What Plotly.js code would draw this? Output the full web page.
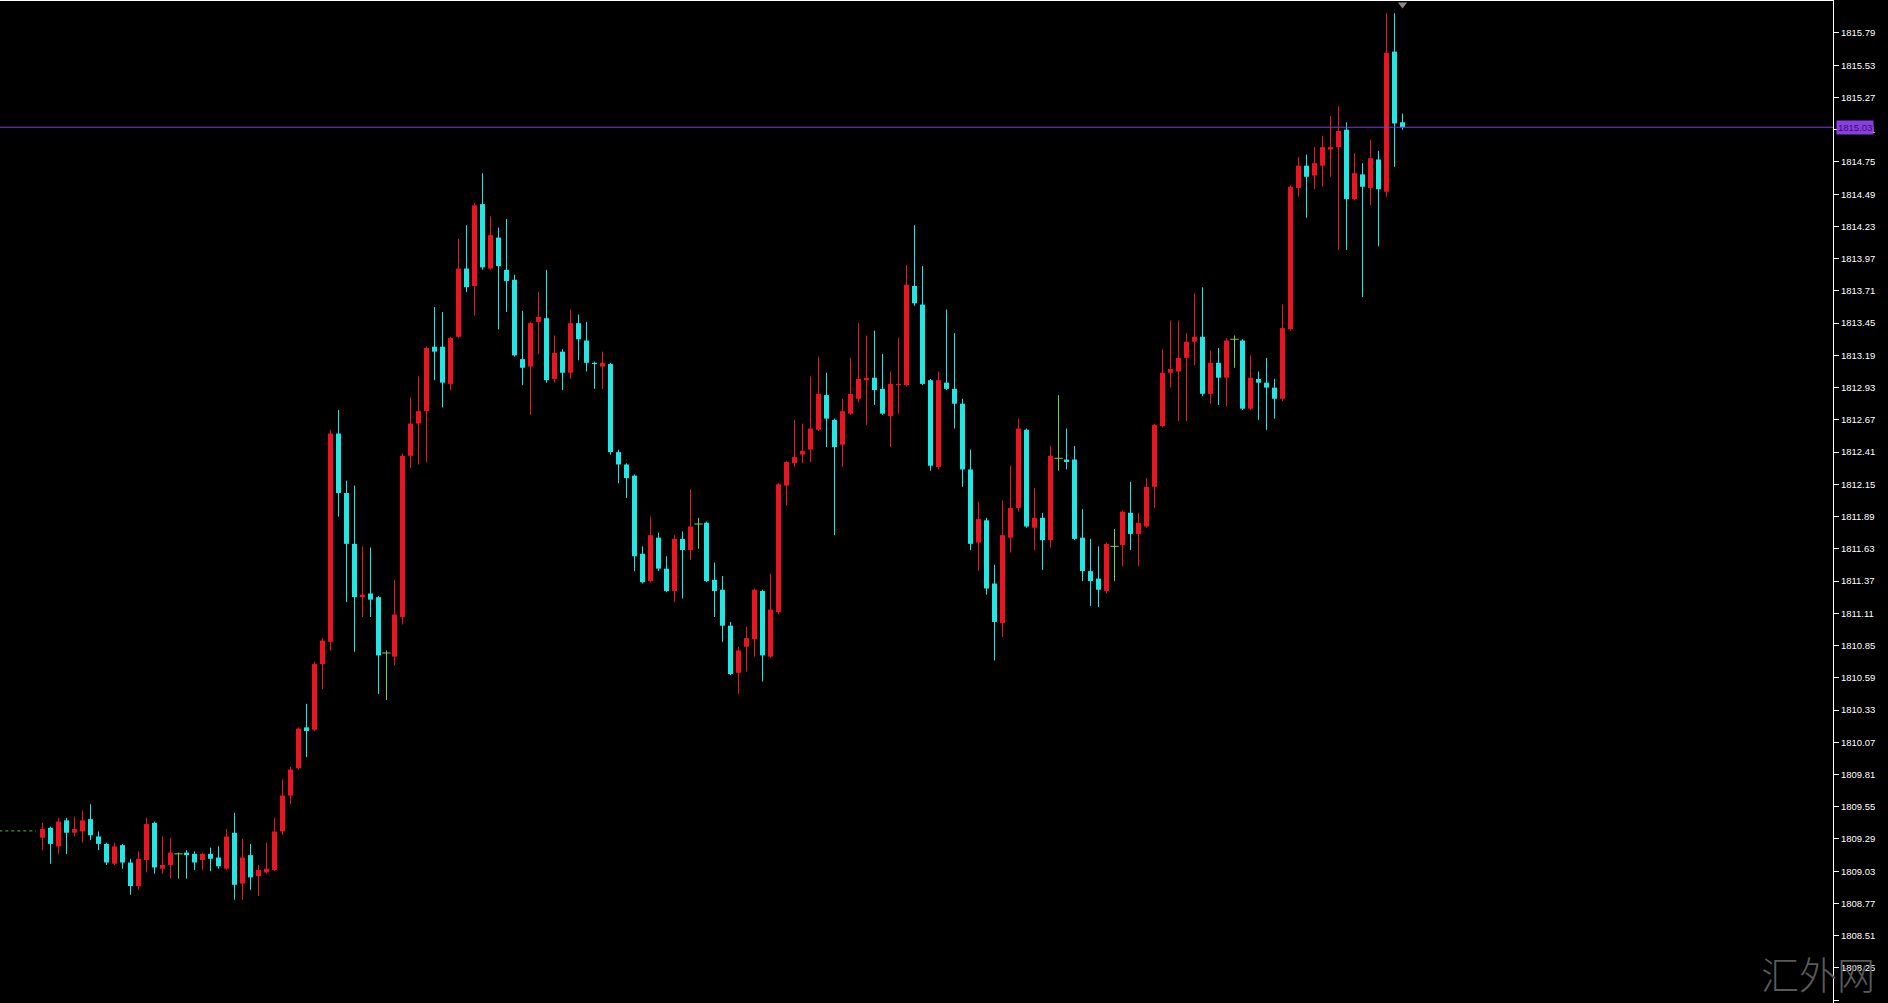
<!DOCTYPE html>
<html>
<head>
<meta charset="utf-8">
<script src="https://cdn.plot.ly/plotly-3.0.1.min.js"></script>
<style>
html,body{margin:0;padding:0;background:#000;overflow:hidden}
#chart{width:1888px;height:1003px}
</style>
</head>
<body>
<div id="chart"></div>
<script>
// ---- data ----
const openP = [
1809.30,1809.38,1809.23,1809.44,1809.34,1809.35,1809.45,1809.31,1809.25,1809.09,
1809.24,1809.10,1808.91,1809.12,1809.42,1809.05,1809.08,1809.17,1809.18,1809.17,
1809.12,1809.17,1809.14,1809.05,1809.34,1808.93,1809.16,1808.99,1809.02,1809.04,
1809.35,1809.64,1809.86,1810.19,1810.17,1810.70,1810.88,1812.56,1812.08,1811.67,
1811.24,1811.27,1811.24,1810.79,1810.76,1811.08,1812.38,1812.64,1812.74,1813.26,
1813.26,1812.96,1813.34,1813.89,1813.75,1814.41,1813.89,1814.14,1813.88,1813.80,
1813.16,1813.10,1813.46,1813.49,1813.00,1813.22,1813.05,1813.45,1813.31,1813.13,
1813.10,1813.12,1812.41,1812.31,1812.22,1811.59,1811.37,1811.72,1811.47,1811.29,
1811.71,1811.62,1811.83,1811.84,1811.38,1811.30,1811.01,1810.63,1810.84,1810.90,
1811.29,1810.76,1811.12,1812.14,1812.32,1812.39,1812.43,1812.59,1812.87,1812.67,
1812.47,1812.72,1812.84,1812.99,1813.01,1812.92,1812.70,1812.95,1812.95,1813.75,
1813.60,1812.99,1812.29,1812.97,1812.92,1812.80,1812.27,1811.68,1811.86,1811.35,
1811.03,1811.72,1811.96,1812.59,1811.80,1811.88,1811.70,1812.36,1812.35,1812.35,
1811.72,1811.45,1811.39,1811.29,1811.65,1811.66,1811.92,1811.75,1811.81,1812.13,
1812.62,1813.05,1813.06,1813.17,1813.30,1813.34,1812.88,1813.13,1813.01,1813.32,
1813.31,1812.76,1813.00,1812.97,1812.93,1812.84,1813.40,1814.54,1814.72,1814.64,
1814.72,1814.85,1814.87,1815.01,1814.45,1814.65,1814.54,1814.77,1814.51,1815.64,
1815.07];
const highP = [
1809.42,1809.39,1809.46,1809.46,1809.47,1809.52,1809.57,1809.35,1809.26,1809.26,
1809.25,1809.13,1809.19,1809.46,1809.43,1809.31,1809.30,1809.18,1809.20,1809.19,
1809.18,1809.22,1809.23,1809.37,1809.50,1809.29,1809.25,1809.08,1809.26,1809.46,
1809.77,1809.87,1810.19,1810.38,1810.72,1810.91,1812.59,1812.75,1812.18,1812.14,
1811.65,1811.64,1811.25,1810.81,1811.38,1812.40,1812.85,1813.02,1813.26,1813.58,
1813.54,1813.34,1814.13,1814.24,1814.42,1814.66,1814.31,1814.22,1814.29,1813.84,
1813.55,1813.46,1813.70,1813.88,1813.35,1813.24,1813.56,1813.52,1813.46,1813.14,
1813.22,1813.13,1812.43,1812.32,1812.23,1811.65,1811.89,1811.76,1811.57,1811.74,
1811.77,1812.11,1811.88,1811.85,1811.52,1811.41,1811.04,1810.84,1811.00,1811.31,
1811.30,1811.43,1812.16,1812.34,1812.67,1812.64,1813.02,1813.18,1813.05,1812.68,
1812.84,1813.17,1813.45,1813.35,1813.39,1813.20,1813.06,1813.33,1813.92,1814.24,
1813.91,1813.00,1813.06,1813.56,1813.37,1812.84,1812.43,1812.01,1811.88,1811.50,
1812.02,1812.30,1812.68,1812.60,1812.12,1811.92,1812.46,1812.87,1812.60,1812.46,
1811.95,1811.71,1811.65,1811.68,1811.79,1811.94,1812.17,1811.92,1812.20,1812.64,
1813.24,1813.47,1813.47,1813.37,1813.69,1813.74,1813.23,1813.25,1813.33,1813.35,
1813.32,1813.19,1813.06,1813.17,1813.00,1813.60,1814.56,1814.79,1814.81,1814.87,
1814.96,1815.12,1815.20,1815.07,1814.82,1814.74,1814.93,1814.84,1815.95,1815.95,
1815.14];
const lowP = [
1809.20,1809.09,1809.17,1809.17,1809.31,1809.26,1809.28,1809.20,1809.08,1809.08,
1809.05,1808.84,1808.88,1809.02,1809.01,1809.01,1808.97,1808.97,1808.97,1809.04,
1809.04,1809.03,1809.05,1809.04,1808.80,1808.80,1808.88,1808.83,1809.01,1809.03,
1809.32,1809.57,1809.85,1809.95,1810.16,1810.50,1810.81,1811.89,1811.20,1810.80,
1811.08,1811.08,1810.46,1810.41,1810.69,1811.02,1812.28,1812.31,1812.33,1812.99,
1812.77,1812.91,1813.33,1813.70,1813.51,1813.88,1813.88,1813.40,1813.54,1813.18,
1812.95,1812.71,1813.20,1812.97,1812.97,1812.91,1813.00,1813.15,1813.06,1812.92,
1812.92,1812.39,1812.16,1812.04,1811.45,1811.35,1811.36,1811.45,1811.28,1811.20,
1811.23,1811.54,1811.63,1811.36,1811.08,1810.88,1810.61,1810.46,1810.64,1810.76,
1810.56,1810.75,1811.10,1811.98,1812.29,1812.32,1812.33,1812.58,1812.45,1811.74,
1812.29,1812.71,1812.81,1812.63,1812.79,1812.71,1812.45,1812.72,1812.94,1813.59,
1812.95,1812.26,1812.27,1812.91,1812.60,1812.13,1811.62,1811.45,1811.26,1810.73,
1810.92,1811.60,1811.93,1811.80,1811.62,1811.46,1811.64,1812.26,1812.27,1811.70,
1811.37,1811.17,1811.16,1811.27,1811.37,1811.49,1811.62,1811.49,1811.80,1811.96,
1812.61,1812.93,1812.66,1812.66,1813.11,1812.86,1812.80,1812.79,1812.78,1813.09,
1812.75,1812.75,1812.67,1812.59,1812.68,1812.82,1813.39,1814.47,1814.30,1814.53,
1814.55,1814.63,1814.04,1814.04,1814.44,1813.66,1814.40,1814.07,1814.47,1814.71,
1815.01];
const closeP = [
1809.37,1809.25,1809.43,1809.34,1809.37,1809.44,1809.32,1809.25,1809.10,1809.23,
1809.10,1808.91,1809.13,1809.41,1809.06,1809.08,1809.18,1809.17,1809.16,1809.10,
1809.17,1809.13,1809.07,1809.31,1808.92,1809.14,1808.98,1809.04,1809.05,1809.35,
1809.64,1809.85,1810.18,1810.16,1810.70,1810.89,1812.56,1812.08,1811.67,1811.24,
1811.26,1811.22,1810.77,1810.79,1811.10,1812.38,1812.64,1812.74,1813.25,1813.22,
1812.97,1813.33,1813.89,1813.74,1814.40,1813.90,1814.16,1813.91,1813.79,1813.19,
1813.09,1813.45,1813.50,1812.99,1813.21,1813.05,1813.45,1813.32,1813.13,1813.12,
1813.13,1812.41,1812.31,1812.20,1811.57,1811.36,1811.74,1811.47,1811.29,1811.71,
1811.62,1811.81,1811.83,1811.37,1811.29,1811.01,1810.62,1810.81,1810.91,1811.30,
1810.77,1811.14,1812.15,1812.33,1812.37,1812.42,1812.60,1812.88,1812.68,1812.45,
1812.74,1812.88,1813.00,1813.01,1812.91,1812.72,1812.96,1812.96,1813.76,1813.61,
1812.96,1812.30,1812.99,1812.92,1812.80,1812.27,1811.67,1811.87,1811.31,1811.04,
1811.74,1811.96,1812.60,1811.81,1811.88,1811.70,1812.38,1812.36,1812.33,1811.71,
1811.45,1811.37,1811.30,1811.67,1811.65,1811.93,1811.75,1811.84,1812.13,1812.63,
1813.05,1813.08,1813.17,1813.30,1813.34,1812.88,1813.13,1813.01,1813.31,1813.32,
1812.76,1813.01,1812.97,1812.93,1812.84,1813.41,1814.55,1814.72,1814.63,1814.74,
1814.87,1814.87,1815.00,1814.45,1814.66,1814.55,1814.78,1814.53,1815.63,1815.06,
1815.03];
const tickLabels = [
"1807.99","1808.25","1808.51","1808.77","1809.03","1809.29","1809.55","1809.81",
"1810.07","1810.33","1810.59","1810.85","1811.11","1811.37","1811.63","1811.89",
"1812.15","1812.41","1812.67","1812.93","1813.19","1813.45","1813.71","1813.97",
"1814.23","1814.49","1814.75","1815.01","1815.27","1815.53","1815.79"];
const lastPrice = 1815.03;
const lastPriceLabel = "1815.03";
const separatorLevel = 1809.355;
const watermark = "汇外网";

// ---- colours ----
const UP = "#ea1520", DOWN = "#20e6e6", DOJI = "#78d040";

// ---- build traces ----
const n = openP.length;
const idx = openP.map((_, i) => i);
const groups = {up:{x:[],base:[],h:[],wx:[],wy:[]}, down:{x:[],base:[],h:[],wx:[],wy:[]}, doji:{x:[],y:[],wx:[],wy:[]}};
for (let i = 0; i < n; i++) {
  const o = openP[i], c = closeP[i];
  const g = c > o ? groups.up : (c < o ? groups.down : groups.doji);
  g.wx.push(i, i, null); g.wy.push(lowP[i], highP[i], null);
  if (g === groups.doji) { g.x.push(i); g.y.push(o); }
  else { g.x.push(i); g.base.push(Math.min(o, c)); g.h.push(Math.abs(c - o)); }
}
const wick = (g, col) => ({type:'scatter', mode:'lines', x:g.wx, y:g.wy, line:{color:col, width:1}, hoverinfo:'skip', connectgaps:false, showlegend:false});
const body = (g, col) => ({type:'bar', x:g.x, y:g.h, base:g.base, width:0.62, marker:{color:col, line:{width:0}}, hoverinfo:'skip', showlegend:false});

const traces = [
  wick(groups.up, UP), wick(groups.down, DOWN), wick(groups.doji, DOJI),
  body(groups.up, UP), body(groups.down, DOWN),
  {type:'scatter', mode:'markers', x:groups.doji.x, y:groups.doji.y,
   marker:{symbol:'line-ew', size:6, line:{color:DOJI, width:1}}, hoverinfo:'skip', showlegend:false},
  {type:'scatter', mode:'lines', x:[-5.4, -0.8], y:[separatorLevel, separatorLevel],
   line:{color:'#5cb848', width:1, dash:'3px,3px'}, hoverinfo:'skip', showlegend:false},
  {type:'scatter', mode:'markers', x:[n - 1], y:[1816.02], cliponaxis:false,
   marker:{symbol:'triangle-down', size:8, color:'#8a8a8a'}, hoverinfo:'skip', showlegend:false}
];

const pxPerIdx = 8, firstPx = 42.5, plotW = 1833;
const layout = {
  width:1888, height:1003,
  margin:{l:0, r:55, t:1, b:0, pad:0},
  paper_bgcolor:'#000', plot_bgcolor:'#000',
  showlegend:false, barmode:'overlay', hovermode:false,
  xaxis:{range:[-firstPx/pxPerIdx, (plotW - firstPx)/pxPerIdx], side:'top',
         showline:true, linecolor:'#ffffff', linewidth:1, mirror:false,
         showgrid:false, zeroline:false, showticklabels:false, ticks:'', fixedrange:true},
  yaxis:{range:[1807.967, 1816.048], side:'right',
         tickvals:tickLabels.map(Number), ticktext:tickLabels,
         ticks:'outside', ticklen:5, tickwidth:1, tickcolor:'#ffffff',
         showline:true, linecolor:'#ffffff', linewidth:1,
         showgrid:false, zeroline:false, fixedrange:true,
         tickfont:{family:'Liberation Sans, Arial, sans-serif', size:9.5, color:'#ffffff'}},
  shapes:[{type:'line', xref:'paper', x0:0, x1:1, yref:'y', y0:lastPrice, y1:lastPrice,
           line:{color:'#7b3fd4', width:1}, layer:'above'}],
  annotations:[
    {xref:'paper', x:1, xanchor:'left', xshift:3, yref:'y', y:lastPrice, yanchor:'middle',
     text:lastPriceLabel, showarrow:false, bgcolor:'#8a3ee0', borderpad:1,
     font:{family:'Liberation Sans, Arial, sans-serif', size:9.5, color:'#2a1470'}},
    {xref:'paper', x:1818/plotW, xanchor:'center', yref:'paper', y:(1003-972)/1002, yanchor:'middle',
     text:watermark, showarrow:false,
     font:{family:'Noto Sans CJK SC', size:38, color:'#5a5a5a', weight:300}}
  ]
};
Plotly.newPlot('chart', traces, layout, {staticPlot:true, displayModeBar:false});
</script>
</body>
</html>
